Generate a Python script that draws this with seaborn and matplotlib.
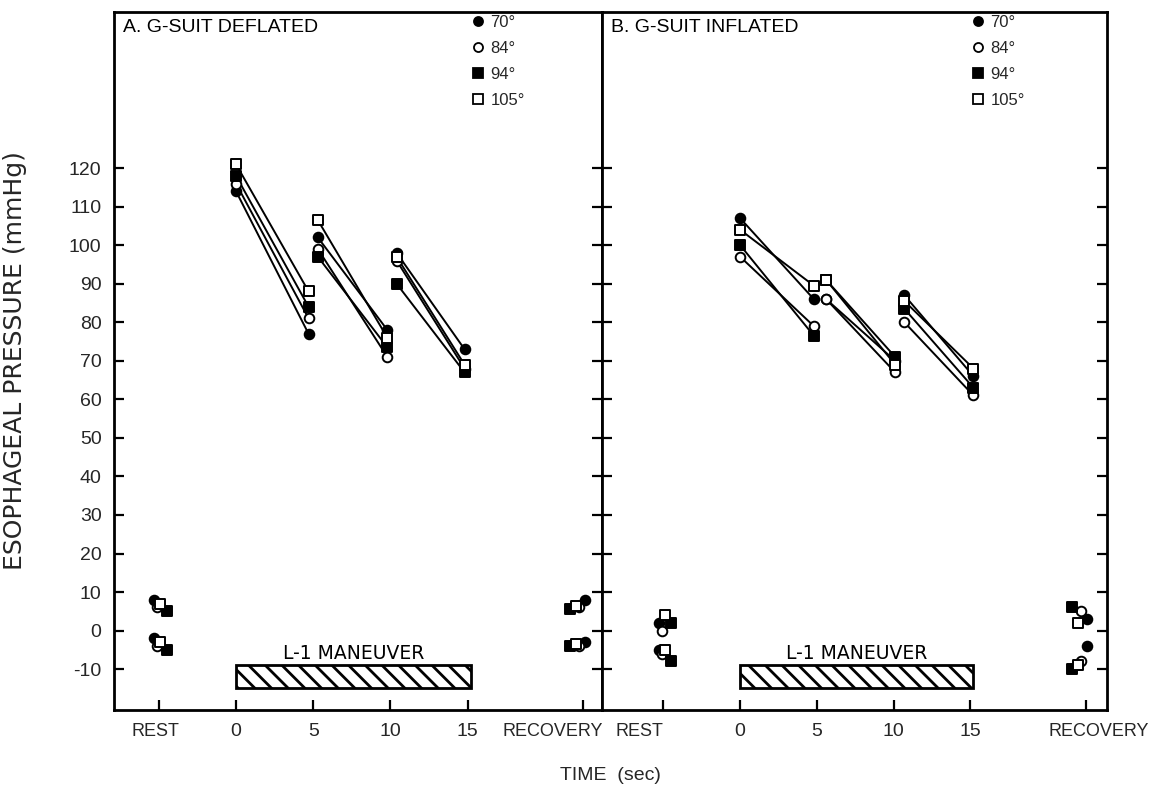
import numpy as np
import pandas as pd
import matplotlib
matplotlib.use("Agg")
import matplotlib.pyplot as plt
import seaborn as sns
from matplotlib.patches import Rectangle
from matplotlib.lines import Line2D
from matplotlib.transforms import ScaledTranslation

# ---------------- data ----------------
angles = ["70°", "84°", "94°", "105°"]
tick_labels = ["REST", "0", "5", "10", "15", "RECOVERY"]
tick_times = [-5, 0, 5, 10, 15, 22.5]
y_ticks = list(range(-10, 130, 10))
maneuver = [0, 15.2]

# time of the start / end point of each of the three segments
A_times = [0, 4.7, 5.3, 9.8, 10.4, 14.8]
B_times = [0, 4.8, 5.6, 10.1, 10.7, 15.2]

# Panel A: G-suit deflated (start, end) x 3 segments
A_70 = [114, 77, 102, 78, 98, 73]
A_84 = [116, 81, 99, 71, 96, 68]
A_94 = [118, 84, 97, 73.5, 90, 67]
A_105 = [121, 88, 106.5, 76, 97, 69]

# Panel B: G-suit inflated
B_70 = [107, 86, 86, 70, 87, 66]
B_84 = [97, 79, 86, 67, 80, 61]
B_94 = [100, 76.5, 91, 71, 83.5, 63]
B_105 = [104, 89.5, 91, 69, 85.5, 68]

# rest / recovery values (two readings each)
A_rest_70, A_rest_84, A_rest_94, A_rest_105 = [8, -2], [6, -4], [5, -5], [7, -3]
A_rec_70, A_rec_84, A_rec_94, A_rec_105 = [8, -3], [6, -4], [5.5, -4], [6.5, -3.5]
B_rest_70, B_rest_84, B_rest_94, B_rest_105 = [2, -5], [0, -6], [2, -8], [4, -5]
B_rec_70, B_rec_84, B_rec_94, B_rec_105 = [-4, 3], [-8, 5], [6, -10], [2, -9]

rest_dodge = [-0.3, -0.1, 0.5, 0.1]
rec_dodge = [0.1, -0.3, -0.9, -0.5]

A_series = [A_70, A_84, A_94, A_105]
B_series = [B_70, B_84, B_94, B_105]
A_rest = [A_rest_70, A_rest_84, A_rest_94, A_rest_105]
A_rec = [A_rec_70, A_rec_84, A_rec_94, A_rec_105]
B_rest = [B_rest_70, B_rest_84, B_rest_94, B_rest_105]
B_rec = [B_rec_70, B_rec_84, B_rec_94, B_rec_105]

marker_of = {"70°": "o", "84°": "o", "94°": "s", "105°": "s"}
face_of = {"70°": "black", "84°": "white", "94°": "black", "105°": "white"}


def build_frames(times, series, rest, rec):
    seg_rows, pt_rows = [], []
    for ang, vals, rv, cv, rd, cd in zip(angles, series, rest, rec, rest_dodge, rec_dodge):
        for k in range(3):
            for j in (2 * k, 2 * k + 1):
                seg_rows.append(dict(angle=ang, seg=k, time=times[j], p=vals[j]))
                pt_rows.append(dict(angle=ang, time=times[j], p=vals[j]))
        for v in rv:
            pt_rows.append(dict(angle=ang, time=tick_times[0] + rd, p=v))
        for v in cv:
            pt_rows.append(dict(angle=ang, time=tick_times[-1] + cd, p=v))
    return pd.DataFrame(seg_rows), pd.DataFrame(pt_rows)


sns.set_theme(style="white")
plt.rcParams["font.family"] = ["Liberation Sans", "DejaVu Sans"]
plt.rcParams["hatch.linewidth"] = 2.0

W, H = 1153, 793
fig = plt.figure(figsize=(W / 100, H / 100), dpi=100)
top_px, bot_px = 12, 710
axL = fig.add_axes([114 / W, 1 - bot_px / H, (602 - 114) / W, (bot_px - top_px) / H])
axR = fig.add_axes([602 / W, 1 - bot_px / H, (1107 - 602) / W, (bot_px - top_px) / H])

panels = [
    (axL, A_times, A_series, A_rest, A_rec, "A. G-SUIT DEFLATED", (-7.9, 23.7)),
    (axR, B_times, B_series, B_rest, B_rec, "B. G-SUIT INFLATED", (-9.0, 23.9)),
]

for ax, times, series, rest, rec, title, xl in panels:
    seg_df, pt_df = build_frames(times, series, rest, rec)
    for ang in angles:
        sub = seg_df[seg_df.angle == ang]
        sns.lineplot(data=sub, x="time", y="p", units="seg", estimator=None,
                     color="black", lw=1.4, ax=ax, legend=False, zorder=2)
    for ang in angles:
        sub = pt_df[pt_df.angle == ang]
        sns.scatterplot(data=sub, x="time", y="p", marker=marker_of[ang],
                        color=face_of[ang], edgecolor="black", linewidth=1.4,
                        s=48, ax=ax, legend=False, zorder=3)
    ax.set_xlim(*xl)
    ax.set_ylim(-20.6, 160.5)
    ax.set_xticks(tick_times)
    ax.set_xticklabels(tick_labels)
    ax.set_yticks(y_ticks)
    ax.set_xlabel("")
    ax.set_ylabel("")
    for s in ax.spines.values():
        s.set_linewidth(2)
        s.set_color("black")
    ax.tick_params(axis="both", direction="in", length=7, width=1.6, color="black",
                   labelsize=14, pad=9)
    ax.tick_params(axis="y", left=True, right=True)
    ax.tick_params(axis="x", bottom=True, top=False)

    # L-1 maneuver bar
    ax.add_patch(Rectangle((maneuver[0], -15), maneuver[1] - maneuver[0], 6,
                           fill=False, hatch="\\\\", lw=2, edgecolor="black", zorder=2))
    ax.text(sum(maneuver) / 2, -6.0, "L-1 MANEUVER", ha="center", va="center",
            fontsize=13.5, family="DejaVu Sans", color="black")

    ax.text(0.018, 0.99, title, transform=ax.transAxes, ha="left", va="top",
            fontsize=14, color="black")

    handles = [Line2D([], [], ls="none", marker=marker_of[a], markersize=6.5,
                      markerfacecolor=face_of[a], markeredgecolor="black",
                      markeredgewidth=1.3) for a in angles]
    ax.legend(handles, angles, loc="upper left", bbox_to_anchor=(0.71, 1.012),
              frameon=False, handlelength=0.7, handletextpad=0.4,
              labelspacing=0.66, fontsize=12, borderaxespad=0.3)

axL.set_yticklabels([str(v) for v in y_ticks])
axR.tick_params(axis="y", labelleft=False)
axL.set_ylabel("ESOPHAGEAL PRESSURE (mmHg)", fontsize=18, family="DejaVu Sans")
axL.yaxis.set_label_coords(-0.178, 0.5)

# nudge crowded category labels and shrink the word labels slightly
offs = {(0, 0): -3, (0, 5): -31, (1, 0): -24, (1, 5): 13}
for (pi, ti), dx in offs.items():
    ax = [axL, axR][pi]
    lab = ax.get_xticklabels()[ti]
    lab.set_fontsize(13)
    lab.set_transform(lab.get_transform() + ScaledTranslation(dx / 100, -1 / 100, fig.dpi_scale_trans))

fig.text(610 / W, 1 - 775 / H, "TIME  (sec)", ha="center", va="center", fontsize=14)

fig.savefig("out.png", dpi=100)
